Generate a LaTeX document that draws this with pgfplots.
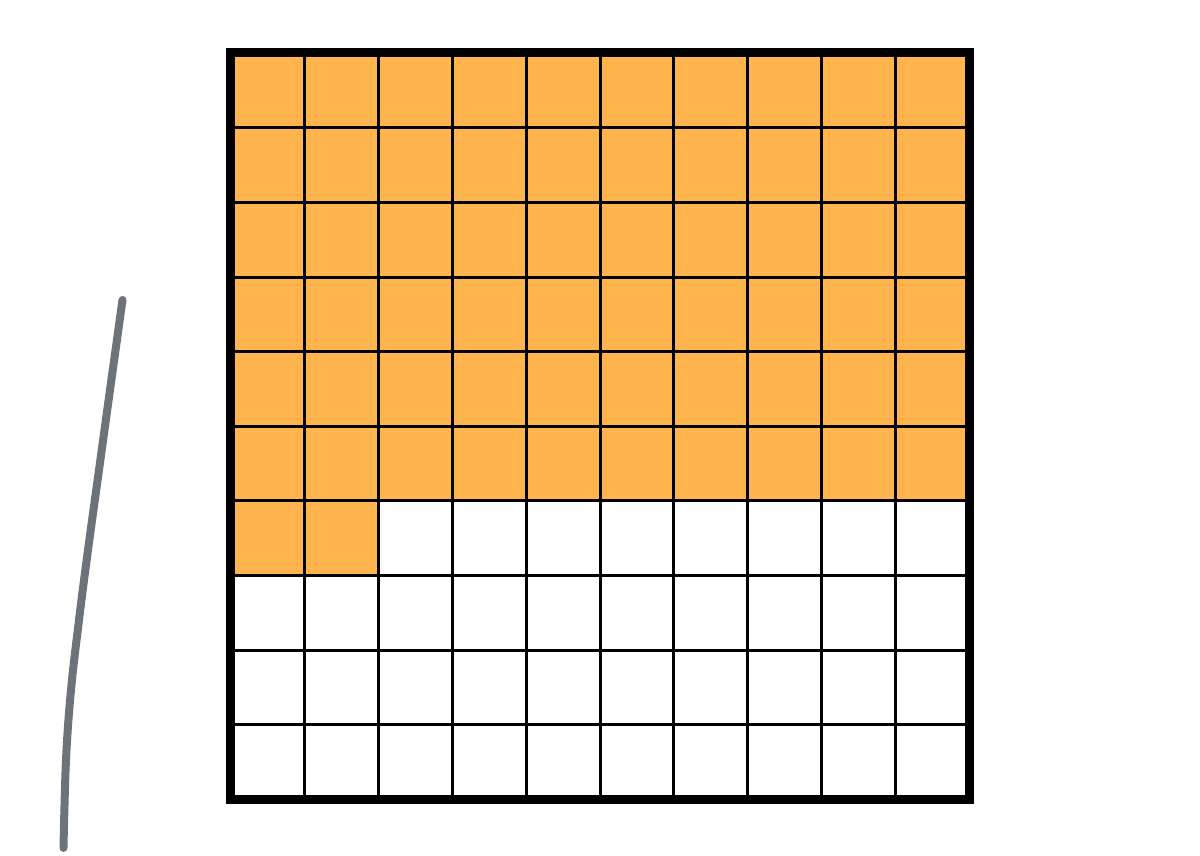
\documentclass[border=0pt]{standalone}
\usepackage{pgfplots}
\pgfplotsset{compat=1.18}
\definecolor{cellorange}{RGB}{255,180,77}
\definecolor{pengray}{RGB}{108,115,122}
\begin{document}
\begin{tikzpicture}
\begin{axis}[
  scale only axis, width=600pt, height=428pt,
  xmin=0, xmax=1200, ymin=0, ymax=856, y dir=reverse,
  hide axis, clip=false, unbounded coords=jump]
\addplot[draw=none, forget plot] coordinates {(0,0) (1200,856)};
% shaded cells (62 of 100)
\addplot[fill=cellorange, draw=none] coordinates {
  (230.5,53) (969.5,53) (969.5,500.9) (378.3,500.9) (378.3,575.5) (230.5,575.5)} --cycle;
% inner grid lines
\addplot[black, line width=1.5pt] coordinates {
  (304.4,53) (304.4,799.5) (nan,nan)
  (378.3,53) (378.3,799.5) (nan,nan)
  (452.2,53) (452.2,799.5) (nan,nan)
  (526.1,53) (526.1,799.5) (nan,nan)
  (600.0,53) (600.0,799.5) (nan,nan)
  (673.9,53) (673.9,799.5) (nan,nan)
  (747.8,53) (747.8,799.5) (nan,nan)
  (821.7,53) (821.7,799.5) (nan,nan)
  (895.6,53) (895.6,799.5) (nan,nan)
  (230.5,127.6) (969.5,127.6) (nan,nan)
  (230.5,202.3) (969.5,202.3) (nan,nan)
  (230.5,277.0) (969.5,277.0) (nan,nan)
  (230.5,351.6) (969.5,351.6) (nan,nan)
  (230.5,426.2) (969.5,426.2) (nan,nan)
  (230.5,500.9) (969.5,500.9) (nan,nan)
  (230.5,575.5) (969.5,575.5) (nan,nan)
  (230.5,650.2) (969.5,650.2) (nan,nan)
  (230.5,724.8) (969.5,724.8)};
% outer border
\addplot[black, line width=4.5pt, line join=miter] coordinates {
  (230.5,53) (969.5,53) (969.5,799.5) (230.5,799.5)} --cycle;
% pen stroke
\addplot[pengray, line width=4pt, line cap=round, smooth, tension=0.6] coordinates {
  (122.5,300) (110,390) (99,470) (88,550) (79,620) (71,690) (66,760) (63.5,848)};
\end{axis}
\end{tikzpicture}
\end{document}
